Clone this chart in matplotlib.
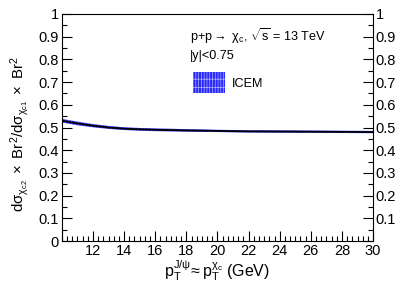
import numpy as np
import matplotlib
matplotlib.use("Agg")
import matplotlib.pyplot as plt
from matplotlib.ticker import MultipleLocator
from matplotlib.patches import Patch

plt.rcParams['font.family'] = ['Liberation Sans', 'DejaVu Sans']
plt.rcParams['mathtext.fontset'] = 'custom'
plt.rcParams['mathtext.rm'] = 'Liberation Sans'
plt.rcParams['mathtext.it'] = 'Liberation Sans'
plt.rcParams['mathtext.sf'] = 'Liberation Sans'
plt.rcParams['hatch.linewidth'] = 0.5

# ratio chi_c2 / chi_c1 from ICEM
pt = [10, 11, 12, 13, 14, 15, 16, 18, 20, 22, 25, 30]
ratio = [0.530, 0.518, 0.508, 0.500, 0.495, 0.492, 0.490, 0.487, 0.485, 0.483, 0.482, 0.480]
band_lo = [0.522, 0.510, 0.501, 0.494, 0.489, 0.486, 0.484, 0.482, 0.480, 0.478, 0.477, 0.475]
band_hi = [0.538, 0.526, 0.515, 0.507, 0.501, 0.498, 0.496, 0.493, 0.490, 0.488, 0.487, 0.485]

fig = plt.figure(figsize=(4.15, 2.84), dpi=100)
ax = fig.add_axes([0.149, 0.151, 0.750, 0.800])

ax.fill_between(pt, band_lo, band_hi, facecolor='#2828ff', edgecolor='#9a9aff',
                hatch='|||||', linewidth=0)
ax.plot(pt, ratio, color='black', lw=1.3)

ax.xaxis.set_major_locator(MultipleLocator(2))
ax.xaxis.set_minor_locator(MultipleLocator(1 / 3))
ax.yaxis.set_minor_locator(MultipleLocator(0.05))
ax.tick_params(which='both', direction='in', labelsize=10.5, right=True, labelright=True)
ax.tick_params(which='major', length=7, width=0.8)
ax.tick_params(which='minor', length=3.5, width=0.8)
ax.tick_params(axis='x', pad=2)
ax.tick_params(axis='y', pad=2)

# ROOT style: no "10" label, and only left axis shows 0
xt = np.arange(10, 31, 2)
ax.set_xticks(xt)
ax.set_xticklabels(['' if v == 10 else '%d' % v for v in xt])
yt = np.round(np.arange(0, 1.01, 0.1), 1)
ax.set_yticks(yt)
ax.set_yticklabels(['0' if v == 0 else ('1' if v == 1 else '%g' % v) for v in yt])
for t in ax.yaxis.get_major_ticks():
    if t.label2.get_text() == '0':
        t.label2.set_visible(False)
ax.set_xlim(10, 30)
ax.set_ylim(0, 1)

ax.set_xlabel(r'$\mathregular{p_T^{J/\psi}\!\approx p_T^{\chi_c}}$ (GeV)', fontsize=11.5, labelpad=0)
ax.set_ylabel(r'$\mathregular{d\sigma_{\chi_{c2}}\ \times\ Br^2/d\sigma_{\chi_{c1}}\ \times\ Br^2}$',
              fontsize=10.8)
ax.yaxis.set_label_coords(-0.10, 0.47)

ax.text(0.412, 0.88, r'p+p$\rightarrow$ $\mathregular{\chi_c}$, $\mathregular{\sqrt{s}}$ = 13 TeV',
        transform=ax.transAxes, fontsize=9.1)
ax.text(0.412, 0.80, '|y|<0.75', transform=ax.transAxes, fontsize=9.1)

h = Patch(facecolor='#2828ff', edgecolor='#b0b0ff', hatch='||||++', linewidth=0)
leg = ax.legend([h], ['ICEM'], loc='upper left', bbox_to_anchor=(0.404, 0.765),
                frameon=False, fontsize=9.1, handlelength=2.6, handleheight=2.1,
                handletextpad=0.5, borderaxespad=0)

fig.savefig('out.png', dpi=100)
